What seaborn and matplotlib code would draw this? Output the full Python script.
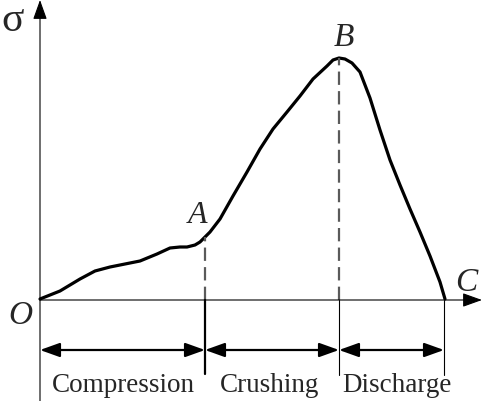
import numpy as np
import pandas as pd
import matplotlib.pyplot as plt
import seaborn as sns
from matplotlib.patches import ArrowStyle

# strain-stress curve (arbitrary units, origin at O)
strain = [0, 10, 20, 30, 40, 55, 70, 85, 100, 117, 130, 140, 147, 155, 160, 165,
          170, 180, 193, 207, 220, 233, 247, 260, 273, 287, 293, 299, 305, 312,
          320, 330, 340, 350, 360, 370, 380, 390, 400, 405]
stress = [1, 5, 9, 15, 21, 29, 33, 36, 39, 46, 52, 53, 53, 55, 58, 63,
          68, 81, 104, 128, 151, 171, 188, 204, 221, 234, 240, 242, 241, 237,
          228, 202, 170, 140, 115, 91, 68, 44, 18, 1]

# stage boundaries: A, B, C
stage_x = [165, 299, 404]
stage_names = ["Compression", "Crushing", "Discharge"]
label_x = [83.5, 230, 357]

df = pd.DataFrame({"strain": strain, "stress": stress})

sns.set_style("white")
plt.rcParams["font.family"] = ["Liberation Serif", "DejaVu Serif"]

fig = plt.figure(figsize=(4.87, 4.02), dpi=100)
ax = fig.add_axes([0, 0, 1, 1])
ax.set_xlim(-40, 447)
ax.set_ylim(-101, 301)
ax.set_axis_off()

sns.lineplot(data=df, x="strain", y="stress", color="black", lw=2.3,
             estimator=None, sort=False, ax=ax,
             solid_joinstyle="round", solid_capstyle="round")

# axes arrows
head = ArrowStyle("-|>", head_length=12, head_width=4.3)
ax.annotate("", xy=(0, 300), xytext=(0, -101),
            arrowprops=dict(arrowstyle=head, color="black", lw=0.8,
                            shrinkA=0, shrinkB=0, mutation_scale=1))
ax.annotate("", xy=(442, 0), xytext=(0, 0),
            arrowprops=dict(arrowstyle=head, color="black", lw=0.8,
                            shrinkA=0, shrinkB=0, mutation_scale=1))

# dashed drops from A and B
for xs in stage_x[:2]:
    ys = stress[strain.index(xs)]
    ax.plot([xs, xs], [0, ys], color="#5a5a5a", lw=1.6, dashes=(6, 2.8))

# stage separators below the axis
ax.plot([stage_x[0], stage_x[0]], [-74, 0], color="black", lw=1.6)
for xs in stage_x[1:]:
    ax.plot([xs, xs], [-75, 0], color="black", lw=0.8)

# double-headed dimension arrows
dim = ArrowStyle("<|-|>", head_length=12, head_width=4.3)
bounds = [0] + stage_x
for i in range(3):
    ax.annotate("", xy=(bounds[i + 1], -50), xytext=(bounds[i], -50),
                arrowprops=dict(arrowstyle=dim, color="black", lw=1.6,
                                shrinkA=0, shrinkB=0, mutation_scale=1))
    ax.text(label_x[i], -91, stage_names[i], fontsize=19.5,
            ha="center", va="baseline")

# point labels
ax.text(-27, 270, "σ", fontsize=30, ha="center", va="baseline")
ax.text(-20, -23, "O", fontsize=24, style="italic", ha="center", va="baseline")
ax.text(157.5, 78, "A", fontsize=23, style="italic", ha="center", va="baseline")
ax.text(304, 255, "B", fontsize=24, style="italic", ha="center", va="baseline")
ax.text(426.5, 10, "C", fontsize=24, style="italic", ha="center", va="baseline")

fig.savefig("out.png", dpi=100)
